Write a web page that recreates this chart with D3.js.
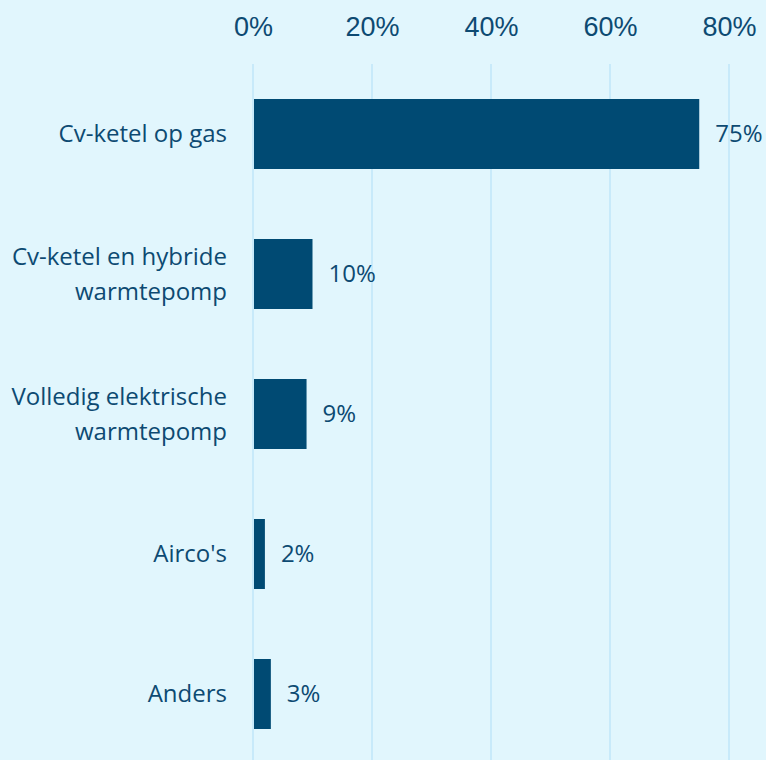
<!DOCTYPE html>
<html>
<head>
<meta charset="utf-8">
<script src="https://cdn.jsdelivr.net/npm/d3@7"></script>
<style>
  html, body { margin: 0; padding: 0; background: #e1f6fd; }
  svg { display: block; font-family: "Open Sans", sans-serif; }
</style>
</head>
<body>
<div id="chart"></div>
<script>
// categories (each entry is the lines of the label) and percentages
const categories = [
  ["Cv-ketel op gas"],
  ["Cv-ketel en hybride", "warmtepomp"],
  ["Volledig elektrische", "warmtepomp"],
  ["Airco's"],
  ["Anders"]
];
const values = [75, 10, 9, 2, 3];
const ticks = [0, 20, 40, 60, 80];

const width = 766, height = 760;
const margin = { top: 64, left: 253, right: 37, bottom: -4 };
const textColor = "#0d4a72";

const svg = d3.select("#chart").append("svg")
  .attr("width", width)
  .attr("height", height);

const x = d3.scaleLinear()
  .domain([0, 80])
  .range([margin.left, width - margin.right]);

const y = d3.scaleBand()
  .domain(categories.map((d, i) => i))
  .range([margin.top, height - margin.bottom])
  .paddingInner(0.5)
  .paddingOuter(0.25);

// gridlines
svg.append("g")
  .selectAll("line")
  .data(ticks)
  .join("line")
  .attr("x1", d => x(d))
  .attr("x2", d => x(d))
  .attr("y1", margin.top)
  .attr("y2", height)
  .attr("stroke", "#c8eafa")
  .attr("stroke-width", 2);

// top axis
const axis = svg.append("g")
  .attr("transform", `translate(0, 36)`)
  .call(d3.axisTop(x).tickValues(ticks).tickFormat(d => d + "%").tickSize(0).tickPadding(0));
axis.select(".domain").remove();
axis.selectAll("text")
  .attr("fill", textColor)
  .style("font-size", "27px")
  .attr("dy", 0);

// bars
svg.append("g")
  .selectAll("rect")
  .data(values)
  .join("rect")
  .attr("x", x(0) + 1)
  .attr("y", (d, i) => y(i))
  .attr("width", d => x(d) - x(0) - 1)
  .attr("height", y.bandwidth())
  .attr("fill", "#004a73");

// value labels
svg.append("g")
  .selectAll("text")
  .data(values)
  .join("text")
  .attr("x", d => x(d) + 16)
  .attr("y", (d, i) => y(i) + y.bandwidth() / 2)
  .attr("dy", "0.35em")
  .attr("fill", textColor)
  .style("font-size", "24px")
  .text(d => d + "%");

// category labels
const lineH = 35;
svg.append("g")
  .selectAll("text")
  .data(categories)
  .join("text")
  .attr("text-anchor", "end")
  .attr("fill", textColor)
  .style("font-size", "24px")
  .each(function(lines, i) {
    const cy = y(i) + y.bandwidth() / 2;
    const start = cy - (lines.length - 1) * lineH / 2;
    d3.select(this).selectAll("tspan")
      .data(lines)
      .join("tspan")
      .attr("x", 227)
      .attr("y", (l, j) => start + j * lineH)
      .attr("dy", "0.35em")
      .text(l => l);
  });
</script>
</body>
</html>
